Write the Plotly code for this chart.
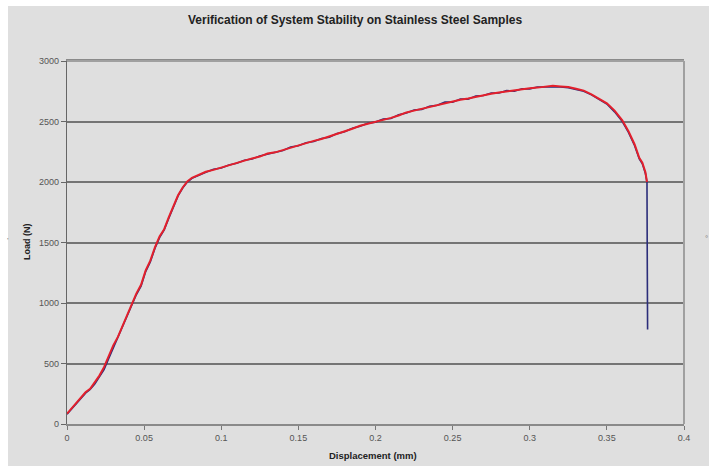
import plotly.graph_objects as go

# Load–displacement record, run A (red) and run B (navy)
disp_a = [0.000, 0.003, 0.006, 0.009, 0.012, 0.015, 0.018, 0.021, 0.024, 0.027,
          0.030, 0.033, 0.036, 0.039, 0.042, 0.045, 0.048, 0.051, 0.054, 0.057,
          0.060, 0.063, 0.066, 0.069, 0.072, 0.075, 0.078, 0.081, 0.085, 0.090,
          0.095, 0.100, 0.105, 0.110, 0.115, 0.120, 0.125, 0.130, 0.135, 0.140,
          0.145, 0.150, 0.155, 0.160, 0.165, 0.170, 0.175, 0.180, 0.185, 0.190,
          0.195, 0.200, 0.205, 0.210, 0.215, 0.220, 0.225, 0.230, 0.235, 0.240,
          0.245, 0.250, 0.255, 0.260, 0.265, 0.270, 0.275, 0.280, 0.285, 0.290,
          0.295, 0.300, 0.305, 0.310, 0.315, 0.320, 0.325, 0.330, 0.335, 0.340,
          0.345, 0.350, 0.355, 0.360, 0.364, 0.368, 0.371, 0.373, 0.375, 0.376]
load_a = [85, 130, 175, 215, 262, 290, 340, 400, 470, 560,
          650, 720, 810, 900, 990, 1080, 1150, 1270, 1350, 1460,
          1550, 1610, 1710, 1800, 1890, 1955, 2005, 2035, 2060, 2085,
          2100, 2120, 2140, 2160, 2175, 2195, 2210, 2235, 2245, 2265,
          2285, 2300, 2320, 2340, 2355, 2375, 2395, 2420, 2440, 2465,
          2480, 2500, 2515, 2530, 2550, 2575, 2590, 2605, 2620, 2640,
          2655, 2665, 2680, 2690, 2705, 2720, 2730, 2740, 2750, 2755,
          2765, 2775, 2780, 2790, 2795, 2790, 2785, 2770, 2755, 2725,
          2690, 2650, 2590, 2510, 2420, 2310, 2200, 2160, 2080, 2000]

disp_b = [0.000, 0.003, 0.006, 0.009, 0.012, 0.015, 0.018, 0.021, 0.024, 0.027,
          0.030, 0.033, 0.036, 0.039, 0.042, 0.045, 0.048, 0.051, 0.054, 0.057,
          0.060, 0.063, 0.066, 0.069, 0.072, 0.075, 0.078, 0.081, 0.085, 0.090,
          0.095, 0.100, 0.105, 0.110, 0.115, 0.120, 0.125, 0.130, 0.135, 0.140,
          0.145, 0.150, 0.155, 0.160, 0.165, 0.170, 0.175, 0.180, 0.185, 0.190,
          0.195, 0.200, 0.205, 0.210, 0.215, 0.220, 0.225, 0.230, 0.235, 0.240,
          0.245, 0.250, 0.255, 0.260, 0.265, 0.270, 0.275, 0.280, 0.285, 0.290,
          0.295, 0.300, 0.305, 0.310, 0.315, 0.320, 0.325, 0.330, 0.335, 0.340,
          0.345, 0.350, 0.355, 0.360, 0.364, 0.368, 0.371, 0.373, 0.375, 0.376,
          0.3762, 0.3764]
load_b = [80, 125, 170, 210, 255, 285, 330, 390, 450, 540,
          630, 710, 800, 890, 980, 1070, 1140, 1260, 1340, 1450,
          1540, 1605, 1700, 1795, 1885, 1950, 2000, 2030, 2055, 2080,
          2105, 2115, 2140, 2155, 2180, 2190, 2215, 2230, 2250, 2260,
          2290, 2300, 2325, 2335, 2360, 2370, 2400, 2415, 2445, 2460,
          2485, 2495, 2520, 2525, 2555, 2570, 2595, 2600, 2625, 2635,
          2660, 2660, 2685, 2685, 2710, 2715, 2735, 2735, 2755, 2750,
          2770, 2770, 2785, 2785, 2790, 2785, 2780, 2765, 2750, 2720,
          2685, 2645, 2580, 2500, 2410, 2300, 2190, 2150, 2070, 2000,
          1300, 780]

y_ticks = [0, 500, 1000, 1500, 2000, 2500, 3000]
x_ticks = [0, 0.05, 0.1, 0.15, 0.2, 0.25, 0.3, 0.35, 0.4]
x_tick_text = ["0", "0.05", "0.1", "0.15", "0.2", "0.25", "0.3", "0.35", "0.4"]

BG = "#dfdfdf"
FONT = "Liberation Sans, Arial, sans-serif"
PW, PH = 617, 363  # plot area size in px


def px(x):
    return (x - 67) / PW


def py(y):
    return (424 - y) / PH


fig = go.Figure()
fig.add_trace(go.Scatter(x=disp_b, y=load_b, mode="lines",
                         line=dict(color="#2b2d7a", width=1.6), showlegend=False))
fig.add_trace(go.Scatter(x=disp_a, y=load_a, mode="lines",
                         line=dict(color="#e3202c", width=2), showlegend=False))

fig.update_layout(
    width=709, height=466,
    margin=dict(l=67, r=25, t=61, b=42),
    paper_bgcolor="white",
    plot_bgcolor=BG,
    font=dict(family=FONT, color="#444"),
    shapes=[dict(type="rect", xref="paper", yref="paper", layer="below",
                 x0=px(8), x1=px(709), y0=py(466), y1=py(6),
                 fillcolor=BG, line=dict(width=0))],
    annotations=[
        dict(text="<b>Verification of System Stability on Stainless Steel Samples</b>",
             xref="paper", yref="paper", x=px(355), y=py(20),
             xanchor="center", yanchor="middle",
             showarrow=False, font=dict(size=12, color="#222", family=FONT)),
        dict(text="<b>Load (N)</b>", xref="paper", yref="paper",
             x=px(27), y=py(242), textangle=-90,
             xanchor="center", yanchor="middle",
             showarrow=False, font=dict(size=9, color="#222", family=FONT)),
        dict(text="<b>Displacement (mm)</b>", xref="paper", yref="paper",
             x=px(373), y=py(455), xanchor="center", yanchor="middle",
             showarrow=False, font=dict(size=9.5, color="#222", family=FONT)),
        dict(text="'", xref="paper", yref="paper", x=px(8), y=py(240),
             xanchor="center", yanchor="middle",
             showarrow=False, font=dict(size=8, color="#777", family=FONT)),
        dict(text="°", xref="paper", yref="paper", x=px(706), y=py(238),
             xanchor="center", yanchor="middle",
             showarrow=False, font=dict(size=8, color="#777", family=FONT)),
    ],
)

fig.update_xaxes(range=[0, 0.4], tickvals=x_ticks, ticktext=x_tick_text,
                 showgrid=False, zeroline=False,
                 showline=True, linecolor="#8a8a8a", linewidth=1.5, mirror=True,
                 ticks="outside", ticklen=4, tickcolor="#777",
                 tickfont=dict(size=9, color="#555"))
fig.update_yaxes(range=[0, 3000], tickvals=y_ticks,
                 showgrid=True, gridcolor="#747474", gridwidth=1.5, zeroline=False,
                 showline=True, linecolor="#666", linewidth=1.3, mirror=False,
                 ticks="outside", ticklen=5, tickcolor="#666",
                 tickfont=dict(size=9, color="#555"))
# right and top frame of the plot area
fig.add_shape(type="line", xref="paper", yref="paper", x0=1, x1=1, y0=0, y1=1,
              line=dict(color="#a0a0a0", width=2))
fig.add_shape(type="line", xref="paper", yref="paper", x0=0, x1=1, y0=1, y1=1,
              line=dict(color="#a0a0a0", width=2))

fig.write_html("out.html")
